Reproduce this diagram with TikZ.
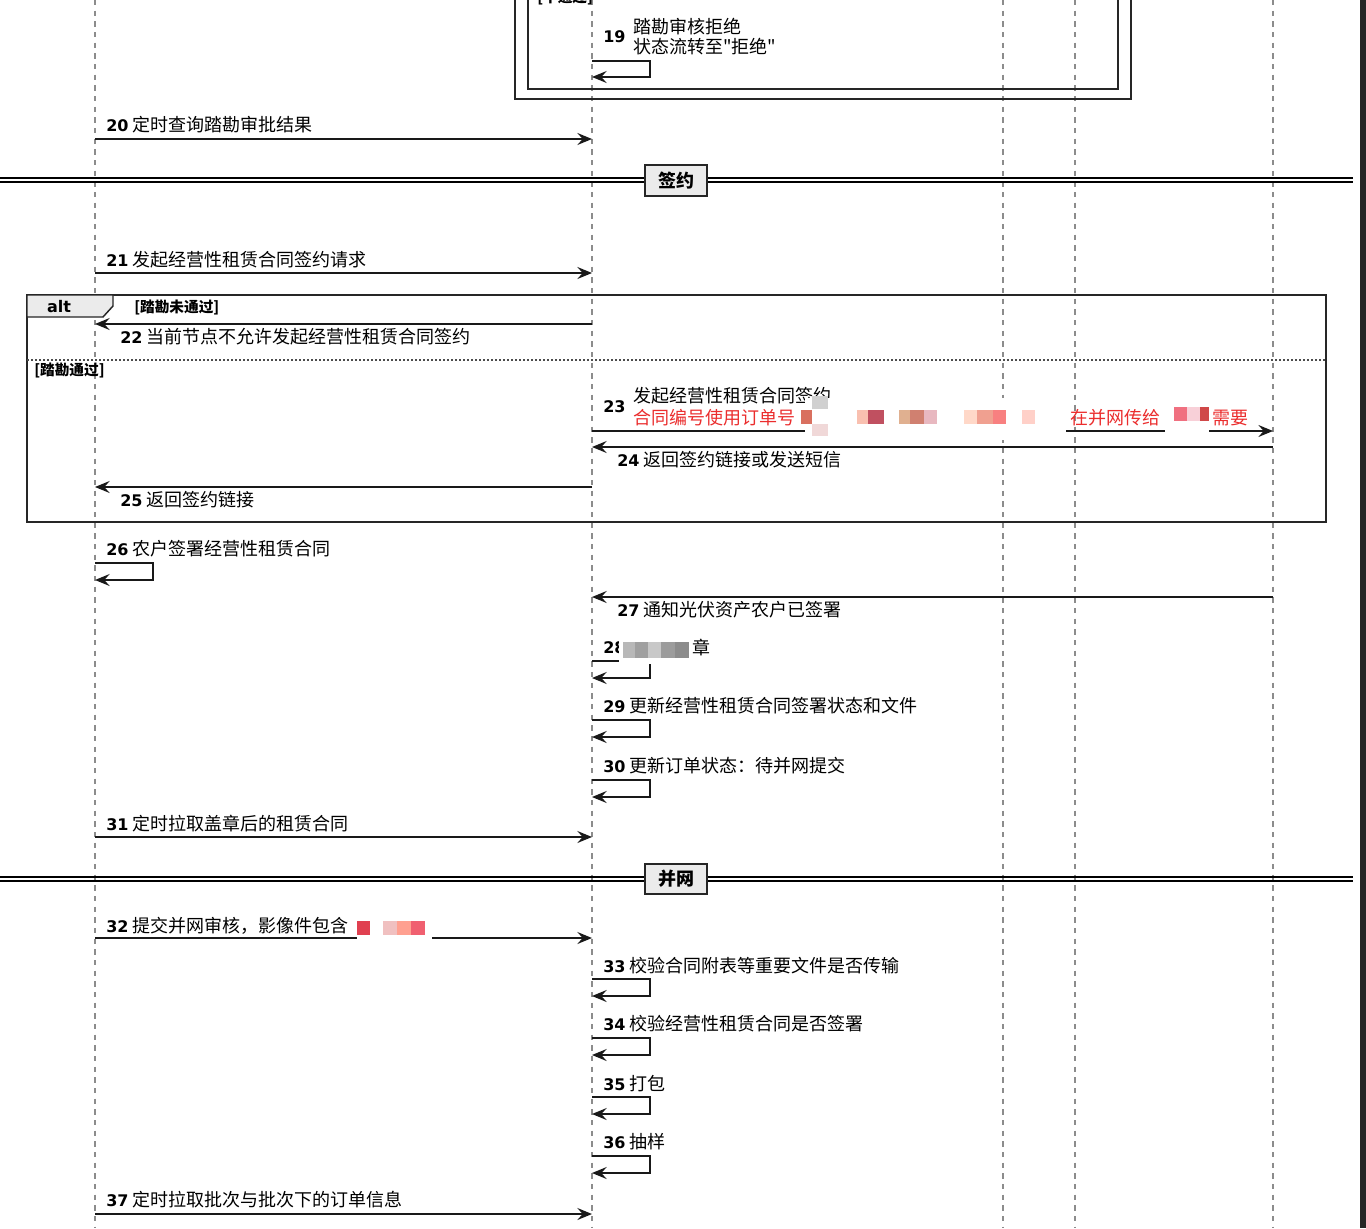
\documentclass[tikz,border=0pt]{standalone}
\usepackage{fontspec}
\setmainfont{Noto Sans CJK SC}[Ligatures=TeXOff]
\newfontfamily\latinfont{DejaVu Sans}
\usetikzlibrary{arrows.meta}
\definecolor{redtext}{RGB}{235,45,45}
\newcommand{\seqno}[1]{{\latinfont\bfseries\fontsize{12}{14}\selectfont #1}}

\begin{document}
\begin{tikzpicture}
        [
        x=0.75pt, y=-0.75pt,
        lifeline/.style={draw=black!45, line width=0.8pt, dash pattern=on 4pt off 4pt},
        msg/.style={draw=black!90, line width=1.1pt, -{Stealth[length=11pt, width=9pt, inset=4pt]}},
        lbl/.style={anchor=west, inner sep=0pt, font=\fontsize{13.5}{15}\selectfont},
        guard/.style={anchor=west, inner sep=0pt, font=\bfseries\fontsize{11}{12}\selectfont},
        frame/.style={draw=black!85, line width=1.8pt},
        divider/.style={draw=black!85, line width=1.7pt, fill=black!8, minimum width=46.5pt, minimum height=23pt, inner sep=0pt, font=\bfseries\fontsize{13.5}{15}\selectfont}
        ]

        \useasboundingbox (0,0) rectangle (1366,1228);
        \fill[white] (0,0) rectangle (1366,1228);
        \fill[black!85] (1360,0) rectangle (1366,1228);

        % lifelines
        \coordinate (app) at (95,0);
        \coordinate (core) at (592,0);
        \coordinate (svcA) at (1003,0);
        \coordinate (svcB) at (1075,0);
        \coordinate (sign) at (1273,0);
        \coordinate (bottom) at (0,1228);
        \foreach \p in {app,core,svcA,svcB,sign}
            \draw[lifeline] (\p) -- (\p |- bottom);

        % message rows
        \coordinate (y19) at (0,61);
        \coordinate (y20) at (0,139);
        \coordinate (y21) at (0,273);
        \coordinate (y22) at (0,324);
        \coordinate (y23) at (0,431);
        \coordinate (y24) at (0,447);
        \coordinate (y25) at (0,487);
        \coordinate (y26) at (0,563);
        \coordinate (y27) at (0,597);
        \coordinate (y28) at (0,661);
        \coordinate (y29) at (0,720);
        \coordinate (y30) at (0,780);
        \coordinate (y31) at (0,837);
        \coordinate (y32) at (0,938);
        \coordinate (y33) at (0,979);
        \coordinate (y34) at (0,1038);
        \coordinate (y35) at (0,1097);
        \coordinate (y36) at (0,1156);
        \coordinate (y37) at (0,1214);

        % nested frames at the top
        \draw[frame] (515,-10) rectangle (1131,99);
        \draw[frame] (528,-10) rectangle (1118,89);
        \node[guard] (g0) at (537,-2) {[不通过]};

        \node[lbl] (n19) at (603,37) {\seqno{19}};
        \node[lbl, align=left] (t19) at (633,37) {踏勘审核拒绝\\状态流转至"拒绝"};
        \draw[msg] (core |- y19) -- ++(58,0) -- ++(0,16) -- ++(-58,0);

        \node[lbl] (t20) at (106,125) {\seqno{20} 定时查询踏勘审批结果};
        \draw[msg] (app |- y20) -- (core |- y20);

        % section: sign
        \draw[line width=1pt] (0,178) -- (1353,178);
        \draw[line width=1pt] (0,182) -- (1353,182);
        \node[divider] (sec1) at (676,180.5) {签约};

        \node[lbl] (t21) at (106,260) {\seqno{21} 发起经营性租赁合同签约请求};
        \draw[msg] (app |- y21) -- (core |- y21);

        % alt frame
        \draw[frame] (27,295) rectangle (1326,522);
        \draw[draw=black!85, line width=1.1pt, fill=black!8] (27,295) -- (113,295) -- (113,306) -- (103,317) -- (27,317) -- cycle;
        \node[font=\latinfont\bfseries\fontsize{12}{14}\selectfont] (alt) at (59,307) {alt};
        \node[guard] (g1) at (134,307) {[踏勘未通过]};
        \draw[black!70, line width=0.8pt, dash pattern=on 1.5pt off 1.5pt] (27,360) -- (1326,360);
        \node[guard] (g2) at (34,370) {[踏勘通过]};

        \draw[msg] (core |- y22) -- (app |- y22);
        \node[lbl] (t22) at (120,337) {\seqno{22} 当前节点不允许发起经营性租赁合同签约};

        \node[lbl] (n23) at (603,407) {\seqno{23}};
        \node[lbl, align=left] (t23) at (633,396) {发起经营性租赁合同签约};
        \node[lbl, text=redtext] (r23a) at (633,418) {合同编号使用订单号};
        \node[lbl, text=redtext] (r23b) at (1070,418) {在并网传给};
        \node[lbl, text=redtext] (r23c) at (1212,418) {需要};
        \draw[msg] (core |- y23) -- (sign |- y23);

        \draw[msg] (sign |- y24) -- (core |- y24);
        \node[lbl] (t24) at (617,460) {\seqno{24} 返回签约链接或发送短信};

        \draw[msg] (core |- y25) -- (app |- y25);
        \node[lbl] (t25) at (120,500) {\seqno{25} 返回签约链接};

        % mosaic over message 23
        \fill[white] (805,398) rectangle (1066,440);
        \fill[white] (1165,400) rectangle (1209,440);
        \fill[fill={rgb,255:red,208;green,208;blue,208}] (812,396) rectangle (828,409);
        \fill[fill={rgb,255:red,240;green,216;blue,216}] (812,424) rectangle (828,436);
        \fill[fill={rgb,255:red,217;green,112;blue,95}] (801,410) rectangle (812,424);
        \fill[fill={rgb,255:red,249;green,192;blue,176}] (857,410) rectangle (868,424);
        \fill[fill={rgb,255:red,192;green,80;blue,96}] (868,410) rectangle (884,424);
        \fill[fill={rgb,255:red,224;green,176;blue,144}] (899,410) rectangle (910,424);
        \fill[fill={rgb,255:red,208;green,128;blue,112}] (910,410) rectangle (924,424);
        \fill[fill={rgb,255:red,232;green,184;blue,192}] (924,410) rectangle (937,424);
        \fill[fill={rgb,255:red,255;green,216;blue,200}] (964,410) rectangle (977,424);
        \fill[fill={rgb,255:red,240;green,160;blue,144}] (977,410) rectangle (993,424);
        \fill[fill={rgb,255:red,248;green,128;blue,128}] (993,410) rectangle (1006,424);
        \fill[fill={rgb,255:red,255;green,208;blue,200}] (1022,410) rectangle (1035,424);
        \fill[fill={rgb,255:red,240;green,112;blue,128}] (1174,407) rectangle (1187,421);
        \fill[fill={rgb,255:red,248;green,208;blue,216}] (1187,407) rectangle (1200,421);
        \fill[fill={rgb,255:red,208;green,72;blue,72}] (1200,407) rectangle (1209,421);

        \node[lbl] (t26) at (106,549) {\seqno{26} 农户签署经营性租赁合同};
        \draw[msg] (app |- y26) -- ++(58,0) -- ++(0,17) -- ++(-58,0);

        \draw[msg] (sign |- y27) -- (core |- y27);
        \node[lbl] (t27) at (617,610) {\seqno{27} 通知光伏资产农户已签署};

        \node[lbl] (t28) at (603,648) {\seqno{28}};
        \node[lbl] (c28) at (692,648) {章};
        \draw[msg] (core |- y28) -- ++(58,0) -- ++(0,17) -- ++(-58,0);
        % mosaic over message 28
        \fill[white] (619,640) rectangle (690,664);
        \fill[fill={rgb,255:red,184;green,184;blue,184}] (623,642) rectangle (635,658);
        \fill[fill={rgb,255:red,160;green,160;blue,160}] (635,642) rectangle (648,658);
        \fill[fill={rgb,255:red,200;green,200;blue,200}] (648,642) rectangle (661,658);
        \fill[fill={rgb,255:red,156;green,156;blue,156}] (661,642) rectangle (675,658);
        \fill[fill={rgb,255:red,140;green,140;blue,140}] (675,642) rectangle (689,658);

        \node[lbl] (t29) at (603,706) {\seqno{29} 更新经营性租赁合同签署状态和文件};
        \draw[msg] (core |- y29) -- ++(58,0) -- ++(0,17) -- ++(-58,0);

        \node[lbl] (t30) at (603,766) {\seqno{30} 更新订单状态：待并网提交};
        \draw[msg] (core |- y30) -- ++(58,0) -- ++(0,17) -- ++(-58,0);

        \node[lbl] (t31) at (106,824) {\seqno{31} 定时拉取盖章后的租赁合同};
        \draw[msg] (app |- y31) -- (core |- y31);

        % section: grid connection
        \draw[line width=1pt] (0,877) -- (1353,877);
        \draw[line width=1pt] (0,881) -- (1353,881);
        \node[divider] (sec2) at (676,879) {并网};

        \node[lbl] (t32) at (106,926) {\seqno{32} 提交并网审核，影像件包含};
        \draw[msg] (app |- y32) -- (core |- y32);
        % mosaic over message 32
        \fill[white] (357,910) rectangle (432,943);
        \fill[fill={rgb,255:red,224;green,64;blue,80}] (357,921) rectangle (370,935);
        \fill[fill={rgb,255:red,240;green,192;blue,192}] (383,921) rectangle (397,935);
        \fill[fill={rgb,255:red,255;green,160;blue,144}] (397,921) rectangle (411,935);
        \fill[fill={rgb,255:red,240;green,96;blue,112}] (411,921) rectangle (425,935);

        \node[lbl] (t33) at (603,966) {\seqno{33} 校验合同附表等重要文件是否传输};
        \draw[msg] (core |- y33) -- ++(58,0) -- ++(0,17) -- ++(-58,0);

        \node[lbl] (t34) at (603,1024) {\seqno{34} 校验经营性租赁合同是否签署};
        \draw[msg] (core |- y34) -- ++(58,0) -- ++(0,17) -- ++(-58,0);

        \node[lbl] (t35) at (603,1084) {\seqno{35} 打包};
        \draw[msg] (core |- y35) -- ++(58,0) -- ++(0,17) -- ++(-58,0);

        \node[lbl] (t36) at (603,1142) {\seqno{36} 抽样};
        \draw[msg] (core |- y36) -- ++(58,0) -- ++(0,17) -- ++(-58,0);

        \node[lbl] (t37) at (106,1200) {\seqno{37} 定时拉取批次与批次下的订单信息};
        \draw[msg] (app |- y37) -- (core |- y37);

    \end{tikzpicture}
\end{document}
